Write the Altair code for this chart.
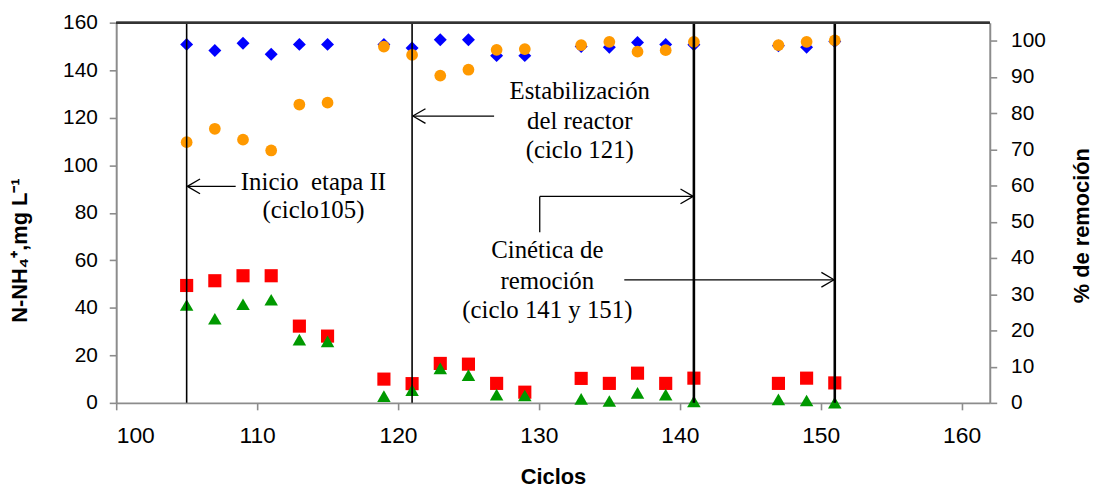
import altair as alt
import pandas as pd

# ---------------- data ----------------
ciclos = [105, 107, 109, 111, 113, 115, 119, 121, 123, 125,
          127, 129, 133, 135, 137, 139, 141, 147, 149, 151]
nh4_cuadrado = [49.4, 51.4, 53.5, 53.5, 32.3, 28.1, 10.0, 8.1, 16.6, 16.3,
                8.2, 4.5, 10.3, 8.2, 12.5, 8.2, 10.4, 8.2, 10.4, 8.4]
nh4_triangulo = [41.2, 35.4, 41.5, 43.4, 26.6, 25.9, 2.8, 5.4, 14.5, 11.7,
                 3.5, 3.1, 1.7, 0.8, 4.2, 3.5, 0.6, 1.5, 1.0, 0.1]
rem_rombo = [99.0, 97.3, 99.3, 96.3, 99.0, 99.0, 99.0, 98.0, 100.3, 100.3,
             95.9, 95.9, 98.4, 98.2, 99.5, 99.0, 98.9, 98.6, 98.2, 99.8]
rem_circulo = [72.0, 75.7, 72.7, 69.7, 82.4, 82.9, 98.4, 96.1, 90.4, 92.0,
               97.5, 97.7, 98.8, 99.7, 97.0, 97.4, 99.7, 98.8, 99.7, 100.1]

lineas_ciclo = [105, 121, 141, 151]
lineas_ancho = [1.6, 1.6, 2.6, 2.6]

x_ticks = [100, 110, 120, 130, 140, 150, 160]
yl_ticks = [0, 20, 40, 60, 80, 100, 120, 140, 160]
yr_ticks = [0, 10, 20, 30, 40, 50, 60, 70, 80, 90, 100]

# annotation texts (x, y in data units of cycle / left axis)
ann_text = ["Inicio\u00a0 etapa II", "(ciclo105)",
            "Estabilización", "del reactor", "(ciclo 121)",
            "Cinética de", "remoción", "(ciclo 141 y 151)"]
ann_x = [114.0, 114.0, 132.9, 132.9, 132.9, 130.6, 130.6, 130.6]
ann_y = [89.4, 77.7, 127.7, 115.2, 103.0, 61.0, 48.0, 35.9]

# arrow shafts: (x1, y1, x2, y2), tip at (x2, y2)
arrow_x1 = [108.48, 126.82, 130.06, 136.06]
arrow_y1 = [91.1, 120.7, 86.9, 51.8]
arrow_x2 = [105.05, 121.05, 140.95, 150.95]
arrow_y2 = [91.1, 120.7, 86.9, 51.8]
# extra plain segment (vertical part of the "Cinética" leader)
seg_x1 = [130.06]
seg_y1 = [71.8]
seg_x2 = [130.06]
seg_y2 = [86.9]

# ---------------- tables ----------------
df = pd.DataFrame({"ciclo": ciclos, "cuad": nh4_cuadrado, "tri": nh4_triangulo,
                   "rombo": rem_rombo, "circ": rem_circulo})
df_lines = pd.DataFrame({"ciclo": lineas_ciclo, "w": lineas_ancho,
                         "y0": [0] * 4, "y1": [160] * 4})
df_text = pd.DataFrame({"x": ann_x, "y": ann_y, "t": ann_text})

segs = []
for a, b, c, d in zip(seg_x1, seg_y1, seg_x2, seg_y2):
    segs.append({"x": a, "y": b, "x2": c, "y2": d})
HX, HY = 0.9, 3.1
for a, b, c, d in zip(arrow_x1, arrow_y1, arrow_x2, arrow_y2):
    segs.append({"x": a, "y": b, "x2": c, "y2": d})
    sgn = 1 if c < a else -1
    segs.append({"x": c, "y": d, "x2": c + sgn * HX, "y2": d + HY})
    segs.append({"x": c, "y": d, "x2": c + sgn * HX, "y2": d - HY})
df_segs = pd.DataFrame(segs)

# ---------------- scales / axes ----------------
W, H = 880, 383
xs = alt.Scale(domain=[100, 162], nice=False, zero=False)
ysl = alt.Scale(domain=[0, 160], nice=False)
ysr = alt.Scale(domain=[0, 105], nice=False)

x_axis = alt.Axis(values=x_ticks, title="Ciclos", labelFontSize=23, labelPadding=15,
                  titleY=64, titleBaseline="top", titleFontSize=22, format="d")
yl_axis = alt.Axis(values=yl_ticks, title="N-NH₄⁺,mg L⁻¹", orient="left",
                   titleX=-97, titleY=229, titleAngle=270, titleBaseline="middle",
                   titleAlign="center", labelPadding=12)
yr_axis = alt.Axis(values=yr_ticks, title="% de remoción", orient="right",
                   titleX=92, titleY=204, titleAngle=270, titleBaseline="middle",
                   titleAlign="center", labelPadding=14)


def X(f):
    return alt.X(f, type="quantitative", scale=xs, axis=x_axis)


def YL(f):
    return alt.Y(f, type="quantitative", scale=ysl, axis=yl_axis)


def YR(f):
    return alt.Y(f, type="quantitative", scale=ysr, axis=yr_axis)


base = alt.Chart(df)

sq = base.mark_point(shape="square", filled=True, size=175, color="#FF0000", opacity=1).encode(
    x=X("ciclo"), y=YL("cuad"))
tri = base.mark_point(shape="triangle-up", filled=True, size=185, color="#009900", opacity=1).encode(
    x=X("ciclo"), y=YL("tri"))
vlines = alt.Chart(df_lines).mark_rule(color="black").encode(
    x=X("ciclo"), y=YL("y0"), y2="y1", strokeWidth=alt.StrokeWidth("w:Q", scale=None))
arrows = alt.Chart(df_segs).mark_rule(color="black", strokeWidth=1.3).encode(
    x=X("x"), y=YL("y"), x2="x2", y2="y2")
texts = alt.Chart(df_text).mark_text(font="Liberation Serif", fontSize=25, align="center",
                                     baseline="alphabetic", color="black").encode(
    x=X("x"), y=YL("y"), text="t:N")
top_border = alt.Chart(df_lines).mark_rule(color="#333333", strokeWidth=2).encode(
    x=alt.value(0), x2=alt.value(W), y=alt.value(0))

left = alt.layer(sq, tri, vlines, arrows, texts, top_border)

dia = base.mark_point(shape="diamond", filled=True, size=170, color="#0000FF", opacity=1).encode(
    x=X("ciclo"), y=YR("rombo"))
circ = base.mark_circle(size=140, color="#FF9900", opacity=1).encode(
    x=X("ciclo"), y=YR("circ"))
right = alt.layer(dia, circ)

chart = alt.layer(right, left).resolve_scale(y="independent").properties(
    width=W, height=H,
    autosize=alt.AutoSizeParams(type="none"),
    padding={"left": 109, "top": 13, "right": 105, "bottom": 88},
).configure_view(stroke=None).configure_axis(
    grid=False,
    domainColor="#8C8C8C", domainWidth=2,
    tickColor="#8C8C8C", tickWidth=1.6, tickSize=7,
    labelFont="Liberation Sans", labelFontSize=21, labelColor="black",
    titleFont="Liberation Sans", titleFontSize=22, titleFontWeight="bold", titleColor="black",
)

chart.save("out.html", embed_options={"renderer": "svg", "actions": False})
